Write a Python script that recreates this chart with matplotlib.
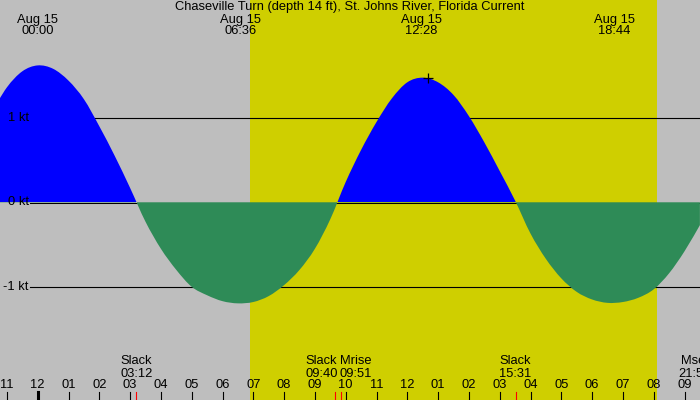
import numpy as np
import matplotlib
matplotlib.use("Agg")
import matplotlib.pyplot as plt
from matplotlib.path import Path
from matplotlib.patches import PathPatch, Rectangle

plt.rcParams["font.family"] = ["Liberation Sans", "DejaVu Sans"]

TITLE = "Chaseville Turn (depth 14 ft), St. Johns River, Florida Current"

# current speed (kt), every half hour from 22:30 the day before
hours = np.arange(-1.5, 22.0, 0.5)
speed = [
    1.06, 1.36, 1.55, 1.62, 1.58, 1.44, 1.22, 0.90, 0.55, 0.17,
    -0.23, -0.55, -0.80, -1.00, -1.10, -1.17, -1.196, -1.18, -1.11, -0.98,
    -0.80, -0.55, -0.20, 0.24, 0.62, 0.95, 1.23, 1.42, 1.475, 1.42,
    1.27, 1.02, 0.71, 0.37, 0.02, -0.37, -0.67, -0.90, -1.06, -1.15,
    -1.19, -1.18, -1.13, -1.03, -0.84, -0.58, -0.27,
]

# max flood / max ebb events (labelled along the top)
peak_hours = [0.0, 6.6, 12.467, 18.733]
peak_dates = ["Aug 15", "Aug 15", "Aug 15", "Aug 15"]
peak_times = ["00:00", "06:36", "12:28", "18:44"]

# slack water and moon events (labelled along the bottom)
event_hours = [3.2, 9.667, 9.85, 15.517, 21.95]
event_names = ["Slack", "Slack", "Mrise", "Slack", "Mset"]
event_times = ["03:12", "09:40", "09:51", "15:31", "21:57"]
event_shift_px = [0, -14, 15, 0, -19]

sunrise, sunset = 6.89, 20.11
mark_hour, mark_speed = 12.68, 1.47
level_lines = [1, 0, -1]
hour_ticks = list(range(-1, 22))

# pixel layout of the 700x400 picture
X0, PX_HR = 37.7, 30.8
Y0, PX_KT = 202.3, 84.5


def hx(px):
    return (px - X0) / PX_HR


def ky(py):
    return (Y0 - py) / PX_KT


def smooth_area(x, y):
    # closed path down to zero, drawn with bezier pieces through the read points
    pts = np.column_stack([x, y])
    verts = [(x[0], 0.0), tuple(pts[0])]
    codes = [Path.MOVETO, Path.LINETO]
    n = len(pts)
    for i in range(n - 1):
        p0 = pts[max(i - 1, 0)]
        p1, p2 = pts[i], pts[i + 1]
        p3 = pts[min(i + 2, n - 1)]
        verts += [tuple(p1 + (p2 - p0) / 6), tuple(p2 - (p3 - p1) / 6), tuple(p2)]
        codes += [Path.CURVE4] * 3
    verts += [(x[-1], 0.0), (x[0], 0.0)]
    codes += [Path.LINETO, Path.CLOSEPOLY]
    return Path(verts, codes)


NIGHT = "#bebebe"
DAY = "#cfcf00"
FLOOD = "#0000ff"
EBB = "#2e8b57"
FS = 9.3

fig = plt.figure(figsize=(7, 4), dpi=100, facecolor=NIGHT)
ax = fig.add_axes([0, 0, 1, 1])
ax.set_xlim(hx(0), hx(700))
ax.set_ylim(ky(400), ky(0))
ax.axis("off")

ax.axvspan(sunrise, sunset, color=DAY, zorder=0.5, lw=0)

for lv in level_lines:
    if lv != 0:
        ax.plot([hx(30), hx(700)], [lv, lv], color="black", lw=0.8, zorder=1)
    ax.text(hx(28.5), lv, f"{lv} kt", ha="right", va="center", fontsize=FS, zorder=5)

area = smooth_area(hours, np.array(speed))
top, bottom = ky(0), ky(400)
x_lo, x_hi = hours[0] - 1, hours[-1] + 1

flood = PathPatch(area, facecolor=FLOOD, lw=0, zorder=2)
ax.add_patch(flood)
flood.set_clip_path(Rectangle((x_lo, 0), x_hi - x_lo, top, transform=ax.transData))

# zero line sits just under the flood fill
ax.plot([hx(30), hx(700)], [ky(Y0 + 0.5)] * 2, color="black", lw=0.75, zorder=2.5)

ebb = PathPatch(area, facecolor=EBB, lw=0, zorder=3)
ax.add_patch(ebb)
ebb.set_clip_path(Rectangle((x_lo, bottom), x_hi - x_lo, -bottom, transform=ax.transData))

ax.plot(mark_hour, mark_speed, marker="+", color="black", ms=6.5, mew=0.9, zorder=6)

ax.text(hx(350), ky(7.5), TITLE, ha="center", va="center", fontsize=FS)
for h, d, t in zip(peak_hours, peak_dates, peak_times):
    ax.text(h, ky(20), d, ha="center", va="center", fontsize=FS)
    ax.text(h, ky(31.5), t, ha="center", va="center", fontsize=FS)

# hour ticks along the bottom
for h in hour_ticks:
    lw = 2.2 if h == 0 else 0.8
    ax.plot([h, h], [ky(392), ky(400)], color="black", lw=lw, zorder=5)
    lab = f"{(h % 12) or 12:02d}"
    ax.text(h, ky(385.5), lab, ha="center", va="center", fontsize=FS)

for h, n, t, s in zip(event_hours, event_names, event_times, event_shift_px):
    ax.plot([h, h], [ky(392), ky(400)], color="red", lw=0.8, zorder=5)
    x = h + s / PX_HR
    ax.text(x, ky(361.5), n, ha="center", va="center", fontsize=FS)
    ax.text(x, ky(373.5), t, ha="center", va="center", fontsize=FS)

fig.savefig("out.png", dpi=100, facecolor=NIGHT)
